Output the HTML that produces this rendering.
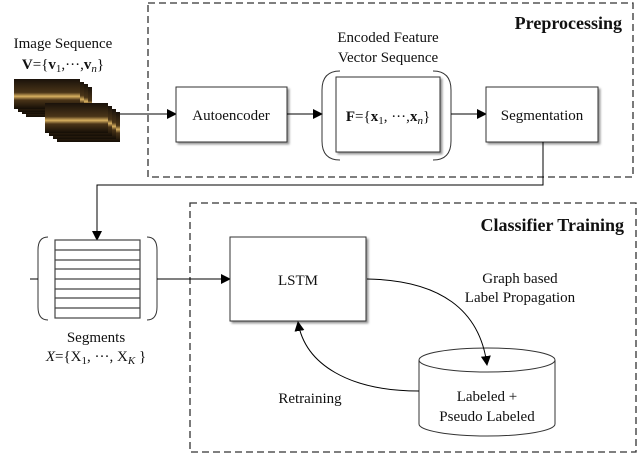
<!DOCTYPE html>
<html><head><meta charset="utf-8"><style>
body{margin:0;background:#fff;width:639px;height:455px;overflow:hidden}
text{font-family:"Liberation Serif",serif;fill:#111}
</style></head><body>
<svg width="639" height="455" xmlns="http://www.w3.org/2000/svg">
<defs>
<marker id="a" markerWidth="10" markerHeight="10" refX="9" refY="5" orient="auto" markerUnits="userSpaceOnUse"><path d="M0,0 L10,5 L0,10 z" fill="#000"/></marker>
<linearGradient id="im" x1="0" y1="0" x2="0" y2="1"><stop offset="0" stop-color="#1a120a"/><stop offset="0.45" stop-color="#4a3518"/><stop offset="0.58" stop-color="#d8b060"/><stop offset="0.7" stop-color="#4a3418"/><stop offset="1" stop-color="#140e06"/></linearGradient>
<filter id="sh"><feDropShadow dx="2" dy="2" stdDeviation="1" flood-color="#999"/></filter>
</defs>
<rect x="148" y="3" width="485" height="174" fill="none" stroke="#333" stroke-width="1.3" stroke-dasharray="7,4"/>
<rect x="190" y="203" width="446" height="249" fill="none" stroke="#333" stroke-width="1.3" stroke-dasharray="7,4"/>
<text x="622" y="29" font-size="18" font-weight="bold" text-anchor="end">Preprocessing</text>
<text x="624" y="231" font-size="18" font-weight="bold" text-anchor="end">Classifier Training</text>
<text x="63" y="48" font-size="15" text-anchor="middle">Image Sequence</text>
<text x="63" y="69" font-size="15" text-anchor="middle"><tspan font-weight="bold">V</tspan>={<tspan font-weight="bold">v</tspan><tspan font-size="11" dy="3">1</tspan><tspan dy="-3">,···,</tspan><tspan font-weight="bold">v</tspan><tspan font-size="11" dy="3" font-style="italic">n</tspan><tspan dy="-3">}</tspan></text>
<g>
<rect x="26" y="87" width="66" height="30" fill="url(#im)"/>
<rect x="22" y="84" width="66" height="30" fill="url(#im)"/>
<rect x="18" y="82" width="66" height="30" fill="url(#im)"/>
<rect x="14" y="79" width="66" height="30" fill="url(#im)"/>
<rect x="57" y="112" width="63" height="30" fill="url(#im)"/>
<rect x="53" y="109" width="63" height="30" fill="url(#im)"/>
<rect x="49" y="106" width="63" height="30" fill="url(#im)"/>
<rect x="45" y="103" width="63" height="30" fill="url(#im)"/>
</g>
<line x1="120" y1="114" x2="176" y2="114" stroke="#000" marker-end="url(#a)"/>
<rect x="176" y="87" width="111" height="55" fill="#fff" stroke="#333" filter="url(#sh)"/>
<text x="231" y="120" font-size="15" text-anchor="middle">Autoencoder</text>
<line x1="287" y1="114" x2="322" y2="114" stroke="#000" marker-end="url(#a)"/>
<text x="388" y="42" font-size="15" text-anchor="middle">Encoded Feature</text>
<text x="388" y="62" font-size="15" text-anchor="middle">Vector Sequence</text>
<path d="M340,71 Q322,71 322,90 L322,141 Q322,160 340,160" fill="none" stroke="#333"/>
<path d="M433,71 Q451,71 451,90 L451,141 Q451,160 433,160" fill="none" stroke="#333"/>
<rect x="336" y="77" width="104" height="75" fill="#fff" stroke="#333" filter="url(#sh)"/>
<text x="388" y="121" font-size="15" text-anchor="middle"><tspan font-weight="bold">F</tspan>={<tspan font-weight="bold">x</tspan><tspan font-size="11" dy="3">1</tspan><tspan dy="-3">, ···,</tspan><tspan font-weight="bold">x</tspan><tspan font-size="11" dy="3" font-style="italic">n</tspan><tspan dy="-3">}</tspan></text>
<line x1="451" y1="114" x2="486" y2="114" stroke="#000" marker-end="url(#a)"/>
<rect x="486" y="87" width="112" height="55" fill="#fff" stroke="#333" filter="url(#sh)"/>
<text x="542" y="120" font-size="15" text-anchor="middle">Segmentation</text>
<polyline points="543,142 543,185 97,185 97,240" fill="none" stroke="#000" marker-end="url(#a)"/>
<path d="M48,237 Q38,237 38,250 L38,307 Q38,320 48,320" fill="none" stroke="#333"/>
<path d="M147,237 Q157,237 157,250 L157,307 Q157,320 147,320" fill="none" stroke="#333"/>
<rect x="55" y="240" width="85" height="78" fill="#fff" stroke="#444" stroke-width="1.2"/>
<g stroke="#444" stroke-width="1.2">
<line x1="55" y1="250" x2="140" y2="250"/><line x1="55" y1="260" x2="140" y2="260"/>
<line x1="55" y1="269" x2="140" y2="269"/><line x1="55" y1="279" x2="140" y2="279"/>
<line x1="55" y1="289" x2="140" y2="289"/><line x1="55" y1="298" x2="140" y2="298"/>
<line x1="55" y1="308" x2="140" y2="308"/>
</g>
<line x1="30" y1="279" x2="38" y2="279" stroke="#000"/>
<line x1="157" y1="279" x2="230" y2="279" stroke="#000" marker-end="url(#a)"/>
<text x="96" y="342" font-size="15" text-anchor="middle">Segments</text>
<text x="96" y="361" font-size="15" text-anchor="middle"><tspan font-style="italic">X</tspan>={X<tspan font-size="11" dy="3">1</tspan><tspan dy="-3">, ···, X</tspan><tspan font-size="11" dy="3" font-style="italic">K</tspan><tspan dy="-3"> }</tspan></text>
<rect x="230" y="237" width="136" height="84" fill="#fff" stroke="#333" filter="url(#sh)"/>
<text x="298" y="285" font-size="15" text-anchor="middle">LSTM</text>
<text x="520" y="283" font-size="15" text-anchor="middle">Graph based</text>
<text x="520" y="302" font-size="15" text-anchor="middle">Label Propagation</text>
<path d="M419,360 L419,424 A68,12 0 0 0 555,424 L555,360" fill="#fff" stroke="#333"/>
<ellipse cx="487" cy="360" rx="68" ry="12" fill="#fff" stroke="#333"/>
<text x="487" y="401" font-size="15" text-anchor="middle">Labeled +</text>
<text x="487" y="421" font-size="15" text-anchor="middle">Pseudo Labeled</text>
<path d="M367,279 C440,280 480,310 487,365" fill="none" stroke="#000" marker-end="url(#a)"/>
<path d="M419,391 C350,391 305,365 298,322" fill="none" stroke="#000" marker-end="url(#a)"/>
<text x="310" y="403" font-size="15" text-anchor="middle">Retraining</text>
</svg>
</body></html>
